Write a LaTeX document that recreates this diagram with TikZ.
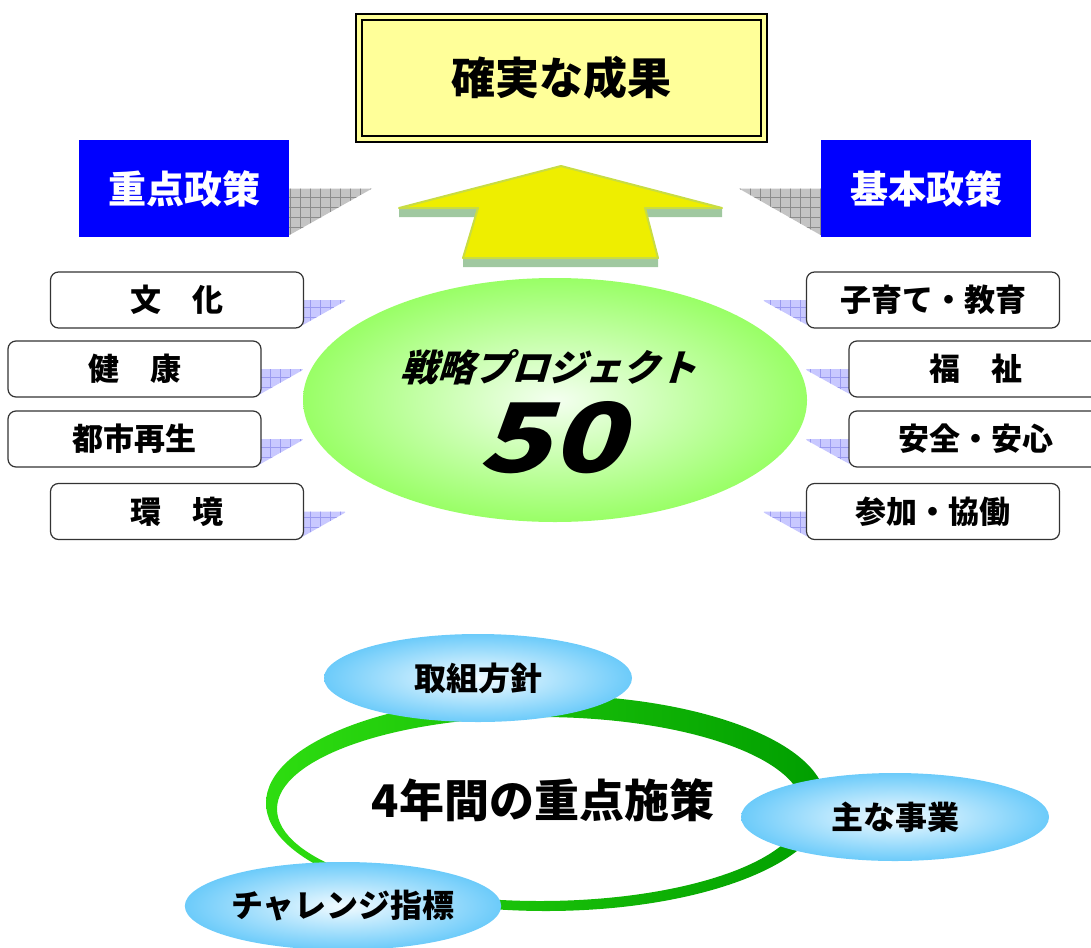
\documentclass[tikz,border=0pt]{standalone}
\usepackage{fontspec}
\setmainfont{Noto Sans CJK JP}
\usetikzlibrary{shapes.geometric, patterns.meta, backgrounds, positioning}

\definecolor{resultfill}{HTML}{FFFF99}
\definecolor{policyblue}{HTML}{0000FF}
\definecolor{shadowgray}{HTML}{C4C4C4}
\definecolor{shadowline}{HTML}{8C8C8C}
\definecolor{wedgeblue}{HTML}{C8C8FF}
\definecolor{wedgeline}{HTML}{9A9AF0}
\definecolor{arrowfill}{HTML}{EEEE00}
\definecolor{arrowedge}{HTML}{C8DC44}
\definecolor{arrowshade}{HTML}{A0C8A0}
\definecolor{leafgreen}{HTML}{99FF66}
\definecolor{leafcenter}{HTML}{F4FFF0}
\definecolor{ringdark}{HTML}{009E00}
\definecolor{ringlight}{HTML}{2EDD10}
\definecolor{bubbleblue}{HTML}{6CCBFA}
\definecolor{bubblecenter}{HTML}{F2FBFF}

\tikzset{
  itembox/.style={draw=black!80, line width=1.2pt, rounded corners=8pt, fill=white,
    minimum width=253pt, minimum height=56pt, inner sep=0pt,
    font=\bfseries\fontsize{31}{31}\selectfont},
  policybox/.style={fill=policyblue, text=white, minimum width=210pt,
    minimum height=97pt, inner sep=0pt, font=\bfseries\fontsize{38}{38}\selectfont},
  graywedge/.style={fill=shadowgray, postaction={pattern={Hatch[angle=0, distance=10pt, line width=0.7pt]}, pattern color=shadowline}},
  bluewedge/.style={rounded corners=3pt, fill=wedgeblue, postaction={pattern={Hatch[angle=0, distance=10pt, line width=0.6pt]}, pattern color=wedgeline}},
  bubble/.style={ellipse, minimum width=308pt, minimum height=88pt, inner sep=0pt,
    inner color=bubblecenter, outer color=bubbleblue,
    font=\bfseries\fontsize{32}{32}\selectfont},
}

\begin{document}
\begin{tikzpicture}[x=1pt, y=-1pt]
  \useasboundingbox (0,0) rectangle (1091,947);
  \clip (0,0) rectangle (1091,947);

  % result at the top
  \node[draw=black, line width=2pt, double=resultfill, double distance=4pt, fill=resultfill,
    minimum width=405pt, minimum height=122pt, inner sep=0pt,
    font=\bfseries\fontsize{44}{44}\selectfont] (result) at (561.5,78) {確実な成果};

  \node[policybox] (juten) at (184,188.5) {重点政策};
  \node[policybox] (kihon) at (926,188.5) {基本政策};

  % arrow
  \fill[arrowshade] (399,207) rectangle (478,217) (645,207) rectangle (722,217)
    (463,257) rectangle (658,267);
  \draw[arrowedge, fill=arrowfill, line width=2pt, line join=round]
    (561,166) -- (722,208) -- (645,208) -- (658,258) -- (463,258) -- (478,208) -- (399,208) -- cycle;

  % strategy project
  \node[ellipse, minimum width=504pt, minimum height=244pt, inner color=leafcenter,
    outer color=leafgreen] (senryaku) at (555,400) {};
  \node[font=\bfseries\fontsize{37}{37}\selectfont, xslant=0.3] (senryakutitle) at (553,367) {戦略プロジェクト};
  \node[font=\bfseries\fontsize{96}{96}\selectfont, xslant=0.3, xscale=1.25] (senryakunum) at (561,438) {50};

  \node[itembox] (bunka) at (177,300) {文　化};
  \node[itembox] (kenkou) at (134.5,369) {健　康};
  \node[itembox] (toshi) at (134.5,439) {都市再生};
  \node[itembox] (kankyo) at (177,511.5) {環　境};

  \node[itembox] (kosodate) at (933,300) {子育て・教育};
  \node[itembox] (fukushi) at (975.5,369) {福　祉};
  \node[itembox] (anzen) at (975.5,439) {安全・安心};
  \node[itembox] (sanka) at (933,511.5) {参加・協働};

  \begin{scope}[on background layer]
    \path[graywedge] (juten.east) -- ++(83,0) -- ([yshift=2pt]juten.south east) -- cycle;
    \path[graywedge] (kihon.west) -- ++(-82,0) -- ([yshift=2pt]kihon.south west) -- cycle;
    \foreach \item/\len in {bunka/43, kenkou/43, toshi/43, kankyo/43}
      \path[bluewedge] ([xshift=-4pt]\item.east) -- ++(\len+4,0) -- ([xshift=-4pt, yshift=2pt]\item.south east) -- cycle;
    \foreach \item/\len in {kosodate/44, fukushi/44, anzen/44, sanka/44}
      \path[bluewedge] ([xshift=4pt]\item.west) -- ++(-\len-4,0) -- ([xshift=4pt, yshift=2pt]\item.south west) -- cycle;
  \end{scope}

  % four-year cycle
  \shade[even odd rule, left color=ringlight, right color=ringdark]
    (546,803) ellipse [x radius=280pt, y radius=108pt]
    (540,809) ellipse [x radius=263pt, y radius=92pt];
  \node[font=\bfseries\fontsize{45}{45}\selectfont] (shisaku) at (543,800) {4年間の重点施策};

  \node[bubble] (houshin) at (478,678) {取組方針};
  \node[bubble] (jigyou) at (895,817) {主な事業};
  \node[bubble] (shihyou) at (343,906) {チャレンジ指標};
\end{tikzpicture}
\end{document}
